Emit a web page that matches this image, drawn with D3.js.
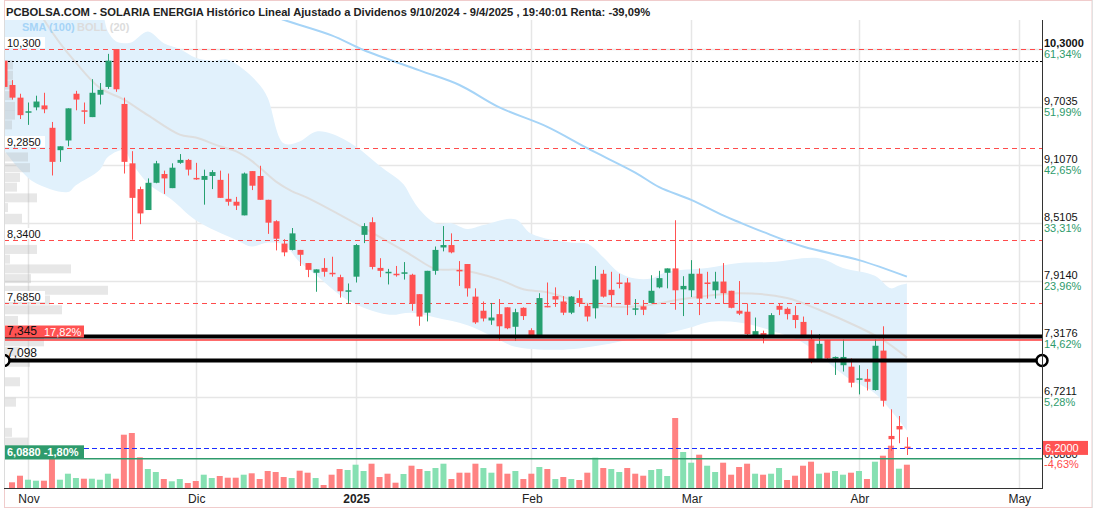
<!DOCTYPE html>
<html>
<head>
<meta charset="utf-8">
<script src="https://d3js.org/d3.v7.min.js"></script>
<style>
  body { margin: 0; background: #fff; }
  svg { display: block; font-family: "Liberation Sans", Arial, sans-serif; }
</style>
</head>
<body>
<div id="chart"></div>
<script>
// months on the x axis (index of first trading day of the month)
const monthLabels = ['Nov', 'Dic', '2025', 'Feb', 'Mar', 'Abr', 'May']
const monthIdx = [3, 24, 44, 66, 86, 107, 127]

// right axis
const priceTicks = [10.3, 9.7035, 9.107, 8.5105, 7.914, 7.3176, 6.7211]
const priceTickLabels = ['10,3000', '9,7035', '9,1070', '8,5105', '7,9140', '7,3176', '6,7211']
const pctTickLabels = ['61,34%', '51,99%', '42,65%', '33,31%', '23,96%', '14,62%', '5,28%']

// dashed level lines with their left labels
const levels = [10.3, 9.285, 8.34, 7.685]
const levelLabels = ['10,300', '9,2850', '8,3400', '7,6850']

// daily candles, 29/10/2024 .. 9/4/2025
const open = [10.18, 9.93, 9.80, 9.655, 9.70, 9.72, 9.49, 9.26, 9.36, 9.84, 9.67, 9.60, 9.83, 9.91, 10.30, 9.735, 9.125, 8.86, 8.645, 8.925,
  9.015, 8.87, 9.13, 9.16, 8.975, 8.955, 8.995, 8.955, 8.76, 8.73, 8.59, 9.045, 8.995, 8.75, 8.53, 8.30, 8.235, 8.235, 8.10, 8.00,
  8.05, 8.00, 7.955, 7.81, 7.96, 8.39, 8.52, 8.05, 7.995, 7.99, 8.00, 7.98, 7.78, 7.59, 8.02, 8.26, 8.285, 8.03, 8.09, 7.755,
  7.61, 7.51, 7.575, 7.645, 7.445, 7.64, 7.41, 7.36, 7.66, 7.76, 7.705, 7.59, 7.74, 7.66, 7.635, 7.99, 7.825, 7.90, 7.90, 7.63,
  7.655, 7.69, 7.85, 8.00, 8.045, 7.83, 7.82, 7.99, 7.90, 7.82, 7.91, 7.815, 7.61, 7.60, 7.36, 7.38, 7.36, 7.66, 7.63, 7.565,
  7.495, 7.315, 7.105, 7.31, 7.13, 7.05, 7.035, 6.905, 6.91, 6.795, 7.20, 6.323, 6.425, 6.213]
const high = [10.20, 9.98, 9.84, 9.75, 9.82, 9.85, 9.55, 9.30, 9.69, 9.87, 9.75, 9.99, 9.95, 10.25, 10.30, 9.80, 9.25, 8.885, 8.97, 9.15,
  9.05, 9.125, 9.22, 9.17, 9.13, 9.06, 9.055, 9.05, 9.02, 8.78, 9.03, 9.045, 9.10, 8.75, 8.54, 8.345, 8.46, 8.235, 8.10, 8.035,
  8.15, 8.165, 7.98, 7.89, 8.295, 8.51, 8.57, 8.15, 8.04, 8.07, 8.11, 7.99, 7.78, 8.02, 8.27, 8.48, 8.405, 8.12, 8.09, 7.84,
  7.705, 7.69, 7.73, 7.645, 7.63, 7.645, 7.43, 7.79, 7.90, 7.85, 7.76, 7.76, 7.82, 7.685, 8.07, 8.03, 8.01, 7.99, 7.945, 7.73,
  7.72, 7.975, 8.02, 8.045, 8.54, 7.965, 8.13, 8.045, 8.01, 8.01, 8.10, 7.815, 7.915, 7.685, 7.54, 7.405, 7.585, 7.685, 7.645, 7.66,
  7.55, 7.41, 7.37, 7.31, 7.14, 7.315, 7.12, 7.05, 7.01, 7.315, 7.45, 6.597, 6.528, 6.31]
const low = [9.90, 9.78, 9.58, 9.52, 9.67, 9.64, 9.00, 9.14, 9.30, 9.67, 9.53, 9.60, 9.73, 9.89, 9.86, 9.02, 8.34, 8.50, 8.645, 8.92,
  8.81, 8.87, 9.12, 9.00, 8.955, 8.70, 8.86, 8.77, 8.69, 8.645, 8.59, 8.85, 8.75, 8.40, 8.23, 8.17, 8.23, 8.07, 7.955, 7.805,
  7.96, 7.96, 7.745, 7.68, 7.90, 8.305, 8.035, 7.955, 7.88, 7.96, 7.93, 7.61, 7.455, 7.50, 7.98, 8.22, 8.20, 7.865, 7.755, 7.475,
  7.50, 7.465, 7.30, 7.42, 7.30, 7.515, 7.345, 7.345, 7.645, 7.65, 7.565, 7.575, 7.65, 7.50, 7.53, 7.745, 7.65, 7.84, 7.565, 7.565,
  7.565, 7.685, 7.84, 7.84, 7.62, 7.555, 7.75, 7.565, 7.735, 7.735, 7.68, 7.635, 7.565, 7.345, 7.36, 7.275, 7.345, 7.565, 7.52, 7.43,
  7.345, 7.07, 7.10, 7.10, 6.95, 6.985, 6.823, 6.75, 6.79, 6.79, 6.625, 6.17, 6.248, 6.127]
const close = [9.91, 9.80, 9.62, 9.66, 9.76, 9.68, 9.14, 9.30, 9.69, 9.78, 9.655, 9.85, 9.88, 10.18, 9.886, 9.14, 8.77, 8.61, 8.925, 9.125,
  8.97, 9.08, 9.16, 9.06, 8.96, 8.995, 9.035, 8.77, 8.73, 8.69, 9.02, 8.895, 8.75, 8.515, 8.35, 8.21, 8.405, 8.185, 8.03, 8.035,
  8.01, 7.99, 7.81, 7.82, 8.285, 8.48, 8.06, 8.02, 8.01, 7.975, 8.005, 7.68, 7.55, 8.02, 8.235, 8.285, 8.21, 8.02, 7.84, 7.49,
  7.53, 7.54, 7.45, 7.43, 7.595, 7.555, 7.36, 7.74, 7.655, 7.725, 7.59, 7.755, 7.69, 7.55, 7.93, 7.755, 7.77, 7.895, 7.67, 7.635,
  7.62, 7.815, 7.945, 8.045, 7.82, 7.865, 7.99, 7.735, 7.89, 7.91, 7.79, 7.64, 7.58, 7.37, 7.40, 7.35, 7.565, 7.62, 7.575, 7.515,
  7.345, 7.105, 7.27, 7.12, 7.135, 7.135, 6.87, 6.915, 6.88, 7.25, 6.685, 6.29, 6.39, 6.20]
const volume = [0, 57, 123, 83, 73, 73, 290, 83, 143, 100, 93, 93, 83, 143, 93, 533, 550, 307, 190, 160,
  90, 67, 90, 50, 70, 133, 100, 120, 103, 103, 133, 147, 90, 170, 160, 110, 100, 173, 153, 100,
  30, 133, 190, 180, 233, 170, 243, 110, 143, 53, 140, 223, 190, 170, 200, 243, 90, 153, 153, 243,
  200, 153, 243, 143, 170, 90, 143, 210, 190, 90, 110, 90, 80, 153, 303, 200, 190, 160, 200, 143,
  123, 180, 190, 120, 700, 360, 253, 333, 223, 160, 253, 133, 210, 243, 143, 133, 143, 200, 80, 123,
  223, 263, 143, 153, 170, 133, 153, 170, 90, 263, 323, 423, 193, 233]

// Bollinger (20) and SMA (100), read at some sessions
const bollUpIdx = [0, 6, 12, 13, 14, 15, 16, 18, 20, 22, 24, 26, 28, 30, 32, 33, 35, 37, 39, 41, 44, 47, 50, 51, 52, 54, 56, 58, 60,
  64, 66, 71, 73, 75, 77, 79, 81, 83, 88, 92, 96, 102, 105, 109, 111, 112, 113]
const bollUp = [10.90, 10.95, 10.70, 10.48, 10.38, 10.36, 10.37, 10.48, 10.36, 10.30, 10.21, 10.18, 10.19, 10.09, 9.93, 9.80, 9.33, 9.35,
  9.45, 9.43, 9.30, 9.10, 8.91, 8.77, 8.65, 8.51, 8.51, 8.45, 8.49, 8.55, 8.40, 8.31, 8.30, 8.16, 8.00, 7.94, 7.94, 8.01, 8.05, 8.10,
  8.11, 8.15, 8.05, 7.97, 7.84, 7.87, 7.89]
const bollLoIdx = [0, 2, 4, 8, 9, 12, 13, 15, 16, 18, 21, 24, 29, 31, 33, 35, 37, 39, 43, 48, 51, 54, 58, 62, 64, 70, 75, 78, 82, 86,
  88, 92, 97, 100, 104, 106, 109, 113]
const bollLo = [9.26, 9.06, 8.92, 8.83, 8.90, 9.06, 9.19, 9.26, 9.13, 8.92, 8.75, 8.54, 8.34, 8.27, 8.31, 8.29, 8.11, 7.98, 7.72, 7.57,
  7.59, 7.54, 7.46, 7.31, 7.24, 7.21, 7.26, 7.31, 7.36, 7.44, 7.49, 7.49, 7.38, 7.28, 7.02, 6.90, 6.76, 6.38]
const bollMidIdx = [4, 5, 7, 9, 12, 15, 18, 22, 24, 27, 29, 31, 34, 36, 38, 47, 51, 54, 57, 62, 65, 68, 72, 76, 80, 85, 92, 98, 102,
  107, 110, 113]
const bollMid = [10.75, 10.60, 10.36, 10.16, 9.90, 9.78, 9.62, 9.42, 9.39, 9.30, 9.25, 9.15, 8.94, 8.84, 8.77, 8.37, 8.18, 8.04, 8.03,
  7.93, 7.83, 7.80, 7.70, 7.65, 7.66, 7.73, 7.79, 7.74, 7.62, 7.44, 7.31, 7.13]
const sma100Idx = [30, 35, 41, 45, 52, 57, 62, 68, 73, 79, 82, 86, 90, 92, 95, 100, 107, 113]
const sma100 = [10.75, 10.60, 10.44, 10.29, 10.08, 9.93, 9.70, 9.50, 9.28, 9.03, 8.88, 8.75, 8.59, 8.52, 8.42, 8.27, 8.13, 7.96]

// volume profile on the left
const profPrice = [10.136, 10.03, 9.93, 9.82, 9.71, 9.62, 9.52, 9.19, 9.08, 8.98, 8.88, 8.77, 8.67, 8.56, 8.24, 8.14, 8.04, 7.94,
  7.82, 7.72, 7.62, 7.51, 7.40, 7.29, 7.19, 7.08, 6.88, 6.67, 6.36, 6.26]
const profVol = [90, 90, 90, 90, 110, 110, 80, 240, 260, 160, 130, 330, 40, 180, 330, 60, 670, 270, 1040, 460, 580, 140, 760, 400,
  160, 260, 160, 120, 80, 240]

var W = 1096, H = 512
var plot = { left: 4, right: 1042, top: 20, bottom: 488 }

var x = d3.scaleLinear().domain([0, 113]).range([4, 906.9])
var y = d3.scaleLinear().domain([5.788, 10.598]).range([488, 20])
var yv = d3.scaleLinear().domain([0, 1000]).range([488, 388])
var wp = d3.scaleLinear().domain([0, 1100]).range([0, 110])

var svg = d3.select('#chart').append('svg').attr('width', W).attr('height', H)

svg.append('rect').attr('x', 4.5).attr('y', 0.5).attr('width', 1087.5).attr('height', 507)
  .attr('fill', '#fff').attr('stroke', '#f0cccc')
svg.append('line').attr('x1', 1092.5).attr('x2', 1092.5).attr('y1', 0).attr('y2', 508).attr('stroke', '#e2e2e2')

svg.append('clipPath').attr('id', 'clip').append('rect')
  .attr('x', plot.left + 0.5).attr('y', plot.top)
  .attr('width', plot.right - plot.left - 0.5).attr('height', plot.bottom - plot.top)

var g = svg.append('g').attr('clip-path', 'url(#clip)')

// grid
g.selectAll('.hgrid').data(priceTicks).enter().append('line')
  .attr('x1', plot.left).attr('x2', plot.right)
  .attr('y1', d => Math.round(y(d)) + 0.5).attr('y2', d => Math.round(y(d)) + 0.5)
  .attr('stroke', '#e6e6e6').attr('stroke-width', 1.5)
g.selectAll('.vgrid').data(monthIdx).enter().append('line')
  .attr('x1', d => Math.round(x(d)) + 0.5).attr('x2', d => Math.round(x(d)) + 0.5)
  .attr('y1', plot.top).attr('y2', plot.bottom)
  .attr('stroke', '#e6e6e6').attr('stroke-width', 1.5)

// bollinger band
var pts = (idx, vals) => idx.map((d, i) => [x(d), y(vals[i])])
var curve = d3.line().curve(d3.curveCatmullRom.alpha(0.5))
var upPath = curve(pts(bollUpIdx, bollUp))
var loPath = curve(pts(bollLoIdx, bollLo).reverse())
g.append('path').attr('d', upPath + 'L' + loPath.slice(1) + 'Z')
  .attr('fill', '#e1f1fc')
g.append('path').attr('d', curve(pts(bollMidIdx, bollMid)))
  .attr('fill', 'none').attr('stroke', '#dedede').attr('stroke-width', 2)
g.append('path').attr('d', curve(pts(sma100Idx, sma100)))
  .attr('fill', 'none').attr('stroke', '#a6d4f7').attr('stroke-width', 2)

// volume profile
g.selectAll('.prof').data(profPrice).enter().append('rect')
  .attr('x', plot.left)
  .attr('y', d => y(d) - 4.5)
  .attr('width', (d, i) => wp(profVol[i]))
  .attr('height', 9)
  .attr('fill', 'rgb(170,170,170)').attr('fill-opacity', 0.28)

// volume bars, coloured by change against previous close
var idx = d3.range(close.length)
g.selectAll('.vol').data(idx).enter().append('rect')
  .attr('x', d => x(d) - 3)
  .attr('y', d => yv(volume[d]))
  .attr('width', 6)
  .attr('height', d => yv(0) - yv(volume[d]))
  .attr('fill', d => (d > 0 && close[d] >= close[d - 1]) ? '#86e0b2' : '#ff8282')

// horizontal lines
g.selectAll('.lvl').data(levels).enter().append('line')
  .attr('x1', plot.left).attr('x2', plot.right)
  .attr('y1', d => Math.round(y(d)) + 0.5).attr('y2', d => Math.round(y(d)) + 0.5)
  .attr('stroke', '#ff4b4b').attr('stroke-dasharray', '5,4')
g.append('line').attr('x1', plot.left).attr('x2', plot.right)
  .attr('y1', Math.round(y(open[0])) + 0.5).attr('y2', Math.round(y(open[0])) + 0.5)
  .attr('stroke', '#000').attr('stroke-dasharray', '2,2')
g.append('line').attr('x1', plot.left).attr('x2', plot.right)
  .attr('y1', Math.round(y(close[close.length - 1])) + 0.5).attr('y2', Math.round(y(close[close.length - 1])) + 0.5)
  .attr('stroke', '#1a2cff').attr('stroke-dasharray', '5,3')
g.append('line').attr('x1', plot.left).attr('x2', plot.right)
  .attr('y1', y(6.088)).attr('y2', y(6.088))
  .attr('stroke', '#2e9b6c').attr('stroke-width', 1.5)

// candles
var candle = g.selectAll('.candle').data(idx).enter().append('g')
  .attr('fill', d => close[d] >= open[d] ? '#26a070' : '#ff5252')
  .attr('stroke', d => close[d] >= open[d] ? '#26a070' : '#ff5252')
candle.append('line')
  .attr('x1', d => Math.round(x(d)) + 0.5).attr('x2', d => Math.round(x(d)) + 0.5)
  .attr('y1', d => y(high[d])).attr('y2', d => y(low[d]))
candle.append('rect')
  .attr('x', d => Math.round(x(d)) - 2.5)
  .attr('y', d => y(Math.max(open[d], close[d])))
  .attr('width', 6)
  .attr('height', d => Math.max(1.5, Math.abs(y(open[d]) - y(close[d]))))
  .attr('stroke', 'none')

// black support lines and the red one
g.append('line').attr('x1', plot.left).attr('x2', plot.right)
  .attr('y1', y(7.31)).attr('y2', y(7.31)).attr('stroke', '#ff3b3b').attr('stroke-width', 1.5)
g.selectAll('.sup').data([7.345, 7.098]).enter().append('line')
  .attr('x1', plot.left).attr('x2', plot.right)
  .attr('y1', d => y(d)).attr('y2', d => y(d))
  .attr('stroke', '#000').attr('stroke-width', 4)
g.append('circle').attr('cx', plot.left).attr('cy', y(7.098)).attr('r', 5.5)
  .attr('fill', '#fff').attr('stroke', '#000').attr('stroke-width', 2.5)
svg.append('circle').attr('cx', plot.right).attr('cy', y(7.098)).attr('r', 5.5)
  .attr('fill', '#fff').attr('stroke', '#000').attr('stroke-width', 2.5)

// axes lines
svg.append('line').attr('x1', plot.right + 0.5).attr('x2', plot.right + 0.5)
  .attr('y1', plot.top).attr('y2', plot.bottom + 1).attr('stroke', '#333')
svg.append('line').attr('x1', plot.left).attr('x2', plot.right)
  .attr('y1', plot.bottom + 0.5).attr('y2', plot.bottom + 0.5).attr('stroke', '#333')
svg.append('line').attr('x1', plot.left + 0.5).attr('x2', plot.left + 0.5)
  .attr('y1', plot.top).attr('y2', plot.bottom).attr('stroke', '#dcdcdc')

// x axis labels
svg.selectAll('.mlabel').data(monthLabels).enter().append('text')
  .attr('x', (d, i) => x(monthIdx[i]) + 1)
  .attr('y', 503)
  .attr('text-anchor', 'middle')
  .attr('font-size', 12)
  .attr('font-weight', d => d == '2025' ? 'bold' : 'normal')
  .attr('fill', '#222')
  .text(d => d)

// right axis labels
svg.selectAll('.plabel').data(priceTicks).enter().append('text')
  .attr('x', 1044).attr('y', d => Math.round(y(d)) - 2)
  .attr('font-size', 11).attr('fill', '#111')
  .attr('font-weight', (d, i) => i == 0 ? 'bold' : 'normal')
  .text((d, i) => priceTickLabels[i])
svg.selectAll('.pctlabel').data(priceTicks).enter().append('text')
  .attr('x', 1044).attr('y', d => Math.round(y(d)) + 9)
  .attr('font-size', 11).attr('fill', '#2e9b6c')
  .text((d, i) => pctTickLabels[i])
svg.append('text').attr('x', 1044).attr('y', Math.round(y(6.088)) - 1)
  .attr('font-size', 11).attr('fill', '#111').text('6,0880')
svg.append('text').attr('x', 1044).attr('y', Math.round(y(6.088)) + 9)
  .attr('font-size', 11).attr('fill', '#ff4b4b').text('-4,63%')
var lastY = y(close[close.length - 1])
svg.append('rect').attr('x', 1043).attr('y', lastY - 7).attr('width', 45).attr('height', 14).attr('fill', '#ff5252')
svg.append('text').attr('x', 1045).attr('y', lastY + 4.5)
  .attr('font-size', 11).attr('fill', '#fff').text('6,2000')

// left level labels
var lab = svg.selectAll('.llabel').data(levels).enter().append('g')
lab.append('rect').attr('x', 5).attr('y', d => Math.round(y(d)) - 12)
  .attr('width', (d, i) => levelLabels[i].length * 6 + 4).attr('height', 11).attr('fill', '#fff')
lab.append('text').attr('x', 7).attr('y', d => Math.round(y(d)) - 2)
  .attr('font-size', 11).attr('fill', '#111')
  .text((d, i) => levelLabels[i])

svg.append('rect').attr('x', 5).attr('y', y(7.345) - 11).attr('width', 79).attr('height', 12).attr('fill', '#ff5252')
svg.append('text').attr('x', 44).attr('y', y(7.345) - 1).attr('font-size', 11).attr('fill', '#fff').text('17,82%')
svg.append('text').attr('x', 7).attr('y', y(7.345) - 2).attr('font-size', 12).attr('fill', '#111').text('7,345')
svg.append('text').attr('x', 7).attr('y', y(7.098) - 3.5).attr('font-size', 12).attr('fill', '#111').text('7,098')

svg.append('rect').attr('x', 5).attr('y', y(6.088) - 13.5).attr('width', 79).attr('height', 13).attr('fill', '#2e9b6c')
svg.append('text').attr('x', 7).attr('y', y(6.088) - 3).attr('font-size', 11).attr('font-weight', 'bold')
  .attr('fill', '#fff').text('6,0880  -1,80%')

// title and legend
svg.append('text').attr('x', 6).attr('y', 16)
  .attr('font-size', 11.2).attr('font-weight', 'bold').attr('fill', '#222')
  .text('PCBOLSA.COM - SOLARIA ENERGIA Histórico Lineal Ajustado a Dividenos 9/10/2024 - 9/4/2025 , 19:40:01 Renta: -39,09%')
svg.append('text').attr('x', 22).attr('y', 31)
  .attr('font-size', 11).attr('font-weight', 'bold').attr('fill', '#a6d4f7').text('SMA (100)')
svg.append('text').attr('x', 77).attr('y', 31)
  .attr('font-size', 11).attr('font-weight', 'bold').attr('fill', '#dcdcdc').text('BOLL (20)')
</script>
</body>
</html>
